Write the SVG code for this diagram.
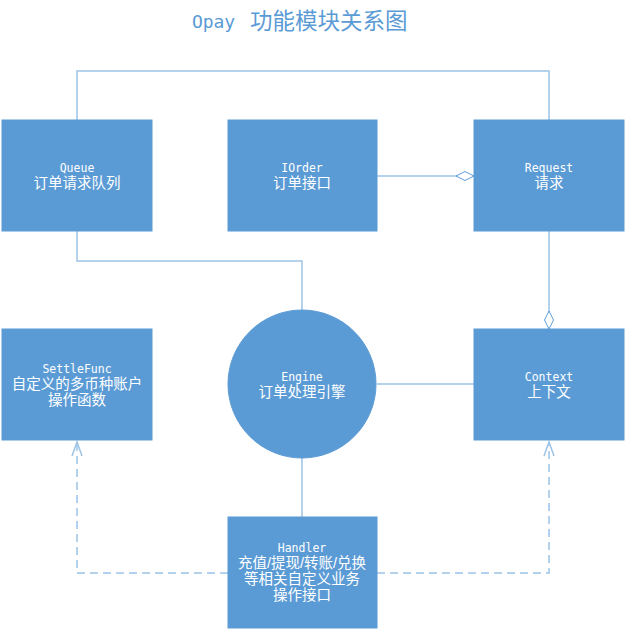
<svg xmlns="http://www.w3.org/2000/svg" width="626" height="631" viewBox="0 0 626 631">
<style>
.box{fill:#5b9bd5;stroke:#5b9bd5;stroke-width:1}
.en{font-family:"DejaVu Sans Mono","Liberation Mono",monospace;font-size:11.5px;fill:#fff;text-anchor:middle}
.cn{font-family:"Liberation Sans","Noto Sans CJK SC",sans-serif;font-size:14.5px;fill:#fff;text-anchor:middle}
.ln{fill:none;stroke:#9dc3e6;stroke-width:1.5}
.dash{fill:none;stroke:#9dc3e6;stroke-width:1.5;stroke-dasharray:8,5}
.dia{fill:#fff;stroke:#5b9bd5;stroke-width:1}
</style>
<rect width="626" height="631" fill="#fff"/>
<text x="192" y="28" font-family="'DejaVu Sans Mono','Liberation Mono',monospace" font-size="18" fill="#5b9bd5" textLength="43">Opay</text>
<text x="250" y="29" font-family="'Noto Sans CJK SC',sans-serif" font-size="22.5" fill="#5b9bd5">功能模块关系图</text>
<g id="connectors">
<path class="ln" d="M77,120 V71 H549 V120"/>
<path class="ln" d="M77,231 V261 H302 V310"/>
<path class="ln" d="M377,176 H474"/>
<path class="dia" d="M474,176 L465,171.5 L456,176 L465,180.5 Z"/>
<path class="ln" d="M549,231 V329"/>
<path class="dia" d="M549,329 L544.5,320 L549,311 L553.5,320 Z"/>
<path class="ln" d="M377,384 H474"/>
<path class="ln" d="M302,458 V517"/>
<path class="dash" d="M228,573 H77 V442"/>
<path class="ln" d="M72,456 L77,442 L82,456"/>
<path class="dash" d="M377,573 H549 V442"/>
<path class="ln" d="M544,456 L549,442 L554,456"/>
</g>
<g id="queue"><rect class="box" x="2" y="120" width="150" height="111"/><text class="en" x="77" y="172">Queue</text><text class="cn" x="77" y="188">订单请求队列</text></g>
<g id="iorder"><rect class="box" x="228" y="120" width="149" height="111"/><text class="en" x="302" y="172">IOrder</text><text class="cn" x="302" y="188">订单接口</text></g>
<g id="request"><rect class="box" x="474" y="120" width="150" height="111"/><text class="en" x="549" y="172">Request</text><text class="cn" x="549" y="188">请求</text></g>
<g id="settlefunc"><rect class="box" x="2" y="329" width="150" height="111"/><text class="en" x="77" y="373">SettleFunc</text><text class="cn" x="77" y="389">自定义的多币种账户</text><text class="cn" x="77" y="405">操作函数</text></g>
<g id="engine"><circle class="box" cx="302" cy="384" r="74"/><text class="en" x="302" y="381">Engine</text><text class="cn" x="302" y="397">订单处理引擎</text></g>
<g id="context"><rect class="box" x="474" y="329" width="150" height="111"/><text class="en" x="549" y="381">Context</text><text class="cn" x="549" y="397">上下文</text></g>
<g id="handler"><rect class="box" x="228" y="517" width="149" height="111"/><text class="en" x="302" y="552">Handler</text><text class="cn" x="302" y="568">充值/提现/转账/兑换</text><text class="cn" x="302" y="584">等相关自定义业务</text><text class="cn" x="302" y="600">操作接口</text></g>
</svg>
